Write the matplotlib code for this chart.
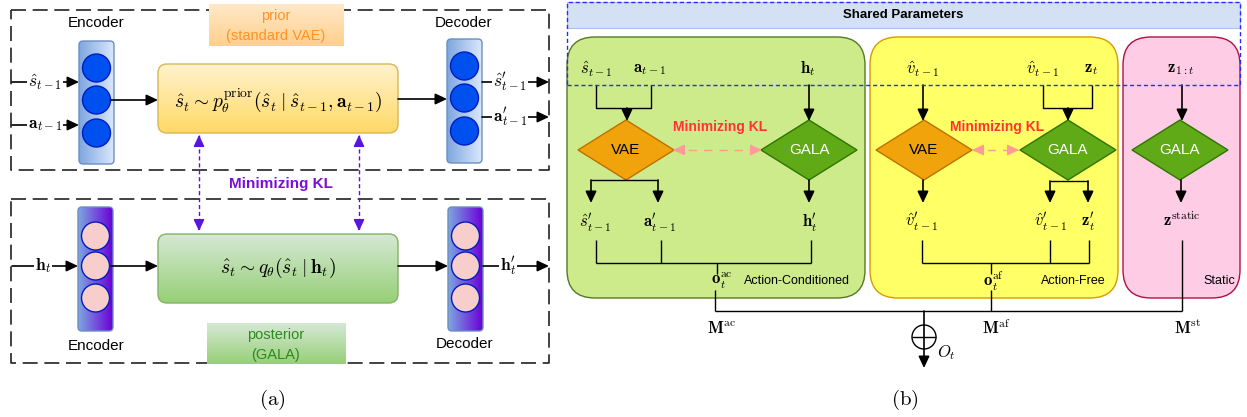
import matplotlib.pyplot as plt
import numpy as np
from matplotlib.patches import FancyBboxPatch, Circle, Polygon, Rectangle
from matplotlib.colors import to_rgb

plt.rcParams['mathtext.fontset'] = 'cm'
plt.rcParams['font.family'] = ['Liberation Sans', 'DejaVu Sans']

# textos del panel (a)
prior_in = [r'$\hat{s}_{t-1}$', r'$\mathbf{a}_{t-1}$']
prior_out = [r"$\hat{s}^{\prime}_{t-1}$", r"$\mathbf{a}^{\prime}_{t-1}$"]
post_in = r'$\mathbf{h}_t$'
post_out = r"$\mathbf{h}^{\prime}_t$"
prior_eq = r'$\hat{s}_t \sim p_\theta^{\mathrm{prior}}(\hat{s}_t \mid \hat{s}_{t-1}, \mathbf{a}_{t-1})$'
post_eq = r'$\hat{s}_t \sim q_\theta(\hat{s}_t \mid \mathbf{h}_t)$'

# textos del panel (b)
ac_in = [r'$\hat{s}_{t-1}$', r'$\mathbf{a}_{t-1}$', r'$\mathbf{h}_t$']
ac_out = [r"$\hat{s}^{\prime}_{t-1}$", r"$\mathbf{a}^{\prime}_{t-1}$", r"$\mathbf{h}^{\prime}_t$"]
af_in = [r'$\hat{v}_{t-1}$', r'$\hat{v}_{t-1}$', r'$\mathbf{z}_t$']
af_out = [r"$\hat{v}^{\prime}_{t-1}$", r"$\hat{v}^{\prime}_{t-1}$", r"$\mathbf{z}^{\prime}_t$"]
st_in = r'$\mathbf{z}_{1:t}$'
st_out = r'$\mathbf{z}^{\mathrm{static}}$'
branch_names = ['Action-Conditioned', 'Action-Free', 'Static']
branch_o = [r'$\mathbf{o}_t^{\mathrm{ac}}$', r'$\mathbf{o}_t^{\mathrm{af}}$']
branch_M = [r'$\mathbf{M}^{\mathrm{ac}}$', r'$\mathbf{M}^{\mathrm{af}}$', r'$\mathbf{M}^{\mathrm{st}}$']

fig = plt.figure(figsize=(12.47, 4.17), dpi=100)
ax = fig.add_axes([0, 0, 1, 1])


def gbox(x0, y0, x1, y1, c1, c2, edge, r=0, vertical=True, z=2, lw=1.0):
    p = FancyBboxPatch((x0, y0), x1 - x0, y1 - y0,
                       boxstyle=f'round,pad=0,rounding_size={r}',
                       fc='none', ec=edge, lw=lw, zorder=z + 0.1)
    ax.add_patch(p)
    t = np.linspace(0, 1, 64)[:, None]
    cols = np.array(to_rgb(c1)) * (1 - t) + np.array(to_rgb(c2)) * t
    img = cols[:, None, :] if vertical else cols[None, :, :]
    im = ax.imshow(img, extent=(x0, x1, y1, y0), origin='upper',
                   aspect='auto', zorder=z, interpolation='bilinear')
    im.set_clip_path(p)


def arrow(x0, y0, x1, y1, color='k', lw=1.2):
    ax.annotate('', xy=(x1, y1), xytext=(x0, y0), zorder=4,
                arrowprops=dict(arrowstyle='-|>,head_length=0.7,head_width=0.33',
                                color=color, lw=lw, shrinkA=0, shrinkB=0))


def dashed_double(x0, y0, x1, y1, color, lw=1.0, dashes=(3, 2)):
    ax.plot([x0, x1], [y0, y1], color=color, lw=lw, dashes=dashes, zorder=4)
    dx, dy = x1 - x0, y1 - y0
    n = np.hypot(dx, dy)
    ux, uy = dx / n, dy / n
    arrow(x0 + ux * 6, y0 + uy * 6, x0, y0, color=color, lw=lw)
    arrow(x1 - ux * 6, y1 - uy * 6, x1, y1, color=color, lw=lw)


def line(xs, ys, color='k', lw=1.0):
    ax.plot(xs, ys, color=color, lw=lw, zorder=3, solid_capstyle='butt')


def diamond(cx, cy, label, fc, ec, tc):
    ax.add_patch(Polygon([(cx - 48, cy), (cx, cy - 30), (cx + 48, cy), (cx, cy + 30)],
                         closed=True, fc=fc, ec=ec, lw=1, zorder=3))
    ax.text(cx, cy, label, ha='center', va='center', fontsize=11, color=tc, zorder=5)


def math(x, y, s, fs=12, **kw):
    ax.text(x, y, s, ha='center', va='center', fontsize=fs, zorder=6, **kw)


# ---------------- panel (a) ----------------
dash_k = (9, 4)
for y0, y1 in [(10, 170), (199, 363)]:
    ax.plot([11, 549, 549, 11, 11], [y0, y0, y1, y1, y0], color='#222222',
            lw=1.2, dashes=dash_k, zorder=1)

# etiquetas prior / posterior
gbox(209, 4, 344, 46, '#ffe8c8', '#ffd08c', 'none', z=5)
ax.text(276, 16, 'prior', ha='center', va='center', fontsize=10.5, color='#ff9326', zorder=6)
ax.text(276, 36, '(standard VAE)', ha='center', va='center', fontsize=10.5, color='#ff9326', zorder=6)
gbox(207, 323, 346, 364, '#d5e8d4', '#97d077', 'none', z=5)
ax.text(276, 335, 'posterior', ha='center', va='center', fontsize=10.5, color='#2b8a1e', zorder=6)
ax.text(276, 355, '(GALA)', ha='center', va='center', fontsize=10.5, color='#2b8a1e', zorder=6)

# encoders / decoders
layers = [
    (79, 41, 164, '#7ea6e0', '#dae8fc', '#0050ef', [68, 100, 133]),
    (447, 39, 163, '#7ea6e0', '#dae8fc', '#0050ef', [66, 98, 131]),
    (78, 207, 331, '#7ea6e0', '#6a00d8', '#f8cecc', [236, 266, 298]),
    (448, 207, 331, '#7ea6e0', '#6a00d8', '#f8cecc', [236, 266, 298]),
]
for x0, y0, y1, c1, c2, cc, cys in layers:
    gbox(x0, y0, x0 + 35, y1, c1, c2, '#6c8ebf', r=4, vertical=False, z=2)
    for cy in cys:
        ax.add_patch(Circle((x0 + 17.5, cy), 14, fc=cc, ec='#001dbc', lw=1, zorder=3))
ax.text(96, 23, 'Encoder', ha='center', va='center', fontsize=11, zorder=6)
ax.text(464, 23, 'Decoder', ha='center', va='center', fontsize=11, zorder=6)
ax.text(96, 346, 'Encoder', ha='center', va='center', fontsize=11, zorder=6)
ax.text(465, 344, 'Decoder', ha='center', va='center', fontsize=11, zorder=6)

# cajas centrales
gbox(158, 64, 398, 133, '#fff2cc', '#ffd966', '#d6b656', r=9, z=2)
math(278, 100, prior_eq, fs=14)
gbox(158, 234, 398, 303, '#d5e8d4', '#97d077', '#82b366', r=9, z=2)
math(278, 268, post_eq, fs=14)

# flechas de entrada / salida
bg = dict(fc='white', ec='none', pad=0.5)
for y, s in zip([82, 125], prior_in):
    arrow(12, y, 79, y)
    math(45, y, s, fs=12.5, bbox=bg)
for y, s in zip([82, 117], prior_out):
    arrow(482, y, 549, y)
    math(510, y, s, fs=12.5, bbox=bg)
arrow(12, 266, 78, 266)
math(43, 266, post_in, fs=12.5, bbox=bg)
arrow(483, 266, 549, 266)
math(508, 266, post_out, fs=12.5, bbox=bg)
arrow(111, 100, 158, 100)
arrow(398, 99, 447, 99)
arrow(111, 266, 158, 266)
arrow(398, 266, 448, 266)

# Minimizing KL (a)
for x in [199, 359]:
    dashed_double(x, 135, x, 231, '#5a14e0', lw=1.0)
ax.text(281, 184, 'Minimizing KL', ha='center', va='center', fontsize=11,
        fontweight='bold', color='#7a0fd6', zorder=6)
ax.text(272, 400, r'$\mathrm{(a)}$', ha='center', va='center', fontsize=15)

# ---------------- panel (b) ----------------
ax.add_patch(Rectangle((567, 2), 673, 26, fc='#d4e1f5', ec='#a9c4eb', lw=0.8, zorder=1))
ax.text(903, 15, 'Shared Parameters', ha='center', va='center', fontsize=9.5,
        fontweight='bold', zorder=6)

boxes = [(567, 865, '#cdeb8b', '#557a23'), (870, 1118, '#ffff66', '#d79b00'),
         (1123, 1240, '#ffcce6', '#b0103f')]
for x0, x1, fc, ec in boxes:
    ax.add_patch(FancyBboxPatch((x0, 37), x1 - x0, 261, boxstyle='round,pad=0,rounding_size=28',
                                fc=fc, ec=ec, lw=1, zorder=1.5))
blue = '#2b2bff'
ax.plot([567, 1240, 1240, 567, 567], [85, 85, 2, 2, 85], color=blue, lw=1.0,
        dashes=(3, 2), zorder=5)

# Action-Conditioned
for x, s in zip([596, 650, 808], ac_in):
    math(x, 69, s)
line([596, 596, 651, 651], [85, 108, 108, 85])
arrow(627, 108, 627, 121)
arrow(809, 85, 809, 121)
diamond(626, 150, 'VAE', '#f0a30a', '#bd7000', 'black')
diamond(809, 150, 'GALA', '#60a917', '#2d7600', 'white')
line([591, 658], [180, 180])
arrow(591, 180, 591, 203)
arrow(658, 180, 658, 203)
arrow(809, 180, 809, 203)
for x, s in zip([595, 660, 810], ac_out):
    math(x, 223, s)
line([596, 596], [240, 263])
line([661, 661], [240, 263])
line([811, 811], [240, 263])
line([596, 811], [263, 263])
line([717, 717], [263, 274])
math(722, 281, branch_o[0])
ax.text(850, 281, branch_names[0], ha='right', va='center', fontsize=9, zorder=6)
dashed_double(673, 150, 762, 150, '#ff9a9a', lw=1.0, dashes=(6, 5))
ax.text(720, 127, 'Minimizing KL', ha='center', va='center', fontsize=10,
        fontweight='bold', color='#ff3333', zorder=6)

# Action-Free
for x, s in zip([923, 1043, 1091], af_in):
    math(x, 69, s)
arrow(923, 85, 923, 121)
line([1043, 1043, 1092, 1092], [85, 108, 108, 85])
arrow(1068, 108, 1068, 121)
diamond(924, 150, 'VAE', '#f0a30a', '#bd7000', 'black')
diamond(1068, 150, 'GALA', '#60a917', '#2d7600', 'white')
arrow(923, 180, 923, 203)
line([1050, 1088], [181, 181])
arrow(1050, 181, 1050, 203)
arrow(1088, 181, 1088, 203)
for x, s in zip([922, 1051, 1088], af_out):
    math(x, 222, s)
line([922, 922], [240, 263])
line([1050, 1050], [240, 263])
line([1089, 1089], [240, 263])
line([922, 1089], [263, 263])
line([991, 991], [263, 274])
math(994, 281, branch_o[1])
ax.text(1106, 281, branch_names[1], ha='right', va='center', fontsize=9, zorder=6)
dashed_double(972, 150, 1019, 150, '#ff9a9a', lw=1.0, dashes=(6, 5))
ax.text(997, 127, 'Minimizing KL', ha='center', va='center', fontsize=10,
        fontweight='bold', color='#ff3333', zorder=6)

# Static
math(1181, 69, st_in)
arrow(1182, 85, 1182, 121)
diamond(1180, 150, 'GALA', '#60a917', '#2d7600', 'white')
arrow(1181, 180, 1181, 203)
math(1182, 220, st_out)
ax.text(1235, 281, branch_names[2], ha='right', va='center', fontsize=9, zorder=6)

# fusión
line([715, 715], [290, 311])
line([991, 991], [290, 311])
line([1182, 1182], [240, 311])
line([715, 1182], [311, 311])
for x, s in zip([722, 996, 1188], branch_M):
    math(x, 328, s)
ax.add_patch(Circle((924, 337), 12, fc='none', ec='k', lw=1, zorder=4))
line([912, 936], [337, 337])
arrow(924, 311, 924, 368)
math(946, 353, r'$O_t$')
ax.text(905, 400, r'$\mathrm{(b)}$', ha='center', va='center', fontsize=15)

ax.set_xlim(0, 1247)
ax.set_ylim(417, 0)
ax.axis('off')
fig.savefig('out.png', dpi=100)
